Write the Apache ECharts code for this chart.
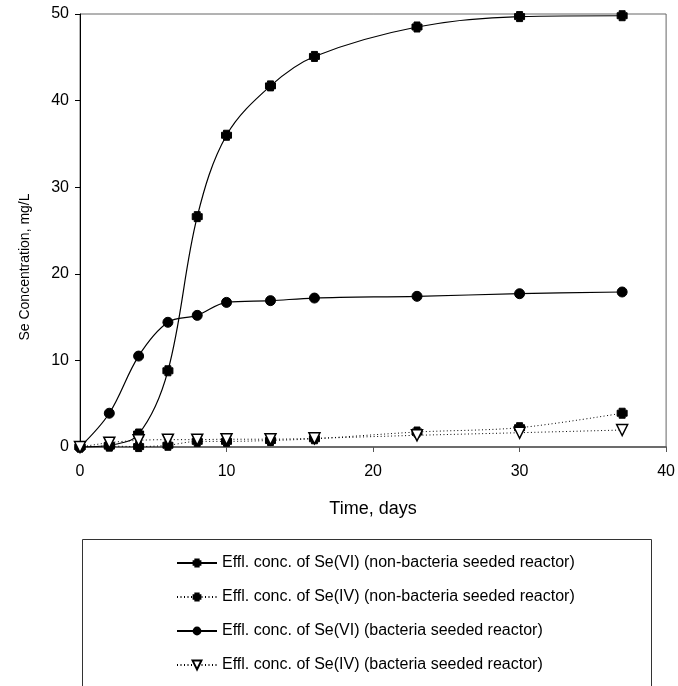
<!DOCTYPE html>
<html>
<head>
<meta charset="utf-8">
<script src="https://cdn.jsdelivr.net/npm/echarts@6/dist/echarts.min.js"></script>
<style>
  html, body { margin: 0; padding: 0; background: #fff; }
  #chart { width: 678px; height: 686px; }
</style>
</head>
<body>
<div id="chart"></div>
<script>
// ---- data ----
const days = [0, 2, 4, 6, 8, 10, 13, 16, 23, 30, 37];
const seVI_nonBact = [0, 0.2, 1.5, 8.8, 26.6, 36.0, 41.7, 45.1, 48.5, 49.7, 49.8];
const seIV_nonBact = [0, 0.1, 0.05, 0.2, 0.65, 0.65, 0.75, 0.95, 1.73, 2.23, 3.9];
const seVI_bact = [0, 3.9, 10.5, 14.4, 15.2, 16.7, 16.9, 17.2, 17.4, 17.7, 17.9];
const seIV_bact = [0, 0.5, 0.77, 0.85, 0.85, 0.9, 0.9, 1.0, 1.35, 1.65, 1.96];
const seriesNames = [
  'Effl. conc. of Se(VI) (non-bacteria seeded reactor)',
  'Effl. conc. of Se(IV) (non-bacteria seeded reactor)',
  'Effl. conc. of Se(VI) (bacteria seeded reactor)',
  'Effl. conc. of Se(IV) (bacteria seeded reactor)'
];
const xTicks = [0, 10, 20, 30, 40];
const yTicks = [0, 10, 20, 30, 40, 50];
const xTitle = 'Time, days';
const yTitle = 'Se Concentration, mg/L';

const FONT = "'Liberation Sans', Arial, sans-serif";
const crossSymbol = 'path://M2,0H8V2H10V8H8V10H2V8H0V2H2Z';
const pair = (xs, ys) => xs.map((x, i) => [x, ys[i]]);

const chart = echarts.init(document.getElementById('chart'), null, { renderer: 'canvas' });
chart.setOption({
  animation: false,
  backgroundColor: '#fff',
  grid: {
    left: 80, top: 14, right: 10, bottom: 239,
    show: true, borderColor: '#666', borderWidth: 1, backgroundColor: 'transparent'
  },
  xAxis: {
    type: 'value', min: xTicks[0], max: xTicks[xTicks.length - 1], interval: 10,
    name: xTitle, nameLocation: 'middle', nameGap: 53,
    nameTextStyle: { fontFamily: FONT, fontSize: 18, color: '#000' },
    axisLine: { lineStyle: { color: '#555', width: 1.5 } },
    axisTick: { inside: false, length: 5, lineStyle: { color: '#555', width: 1 } },
    axisLabel: { margin: 17, fontFamily: FONT, fontSize: 16, color: '#000' },
    splitLine: { show: false }
  },
  yAxis: {
    type: 'value', min: yTicks[0], max: yTicks[yTicks.length - 1], interval: 10,
    axisLine: { show: true, lineStyle: { color: '#000', width: 1 } },
    axisTick: { show: true, inside: false, length: 5, lineStyle: { color: '#000', width: 1 } },
    axisLabel: { margin: 11, fontFamily: FONT, fontSize: 16, color: '#000' },
    splitLine: { show: false }
  },
  graphic: [
    {
      type: 'text', x: 25, y: 267, rotation: Math.PI / 2,
      style: { text: yTitle, fontFamily: FONT, fontSize: 14, fill: '#000', align: 'center', verticalAlign: 'middle' }
    },
    {
      type: 'rect', z: -1, silent: true,
      shape: { x: 82.5, y: 539.5, width: 569, height: 200 },
      style: { fill: 'none', stroke: '#333', lineWidth: 1 }
    }
  ],
  legend: {
    orient: 'vertical', left: 176, top: 555,
    padding: 0,
    itemGap: 18, itemWidth: 40, itemHeight: 11,
    textStyle: { fontFamily: FONT, fontSize: 16, color: '#000' },
    data: seriesNames
  },
  series: [
    {
      name: seriesNames[0], type: 'line', data: pair(days, seVI_nonBact),
      smooth: 0.35,
      symbol: crossSymbol, symbolSize: 10,
      lineStyle: { color: '#000', width: 1.2 },
      itemStyle: { color: '#000', borderColor: '#000' }
    },
    {
      name: seriesNames[1], type: 'line', data: pair(days, seIV_nonBact),
      smooth: 0.3,
      symbol: crossSymbol, symbolSize: 10,
      lineStyle: { color: '#000', width: 1, type: [1, 2.5] },
      itemStyle: { color: '#000', borderColor: '#000' }
    },
    {
      name: seriesNames[2], type: 'line', data: pair(days, seVI_bact),
      smooth: 0.35,
      symbol: 'circle', symbolSize: 10,
      lineStyle: { color: '#000', width: 1.2 },
      itemStyle: { color: '#000', borderColor: '#000' }
    },
    {
      name: seriesNames[3], type: 'line', data: pair(days, seIV_bact),
      smooth: 0.3,
      symbol: 'triangle', symbolRotate: 180, symbolSize: 11,
      lineStyle: { color: '#000', width: 1, type: [1, 2.5] },
      itemStyle: { color: '#fff', borderColor: '#000', borderWidth: 1.5 }
    }
  ]
});
</script>
</body>
</html>
